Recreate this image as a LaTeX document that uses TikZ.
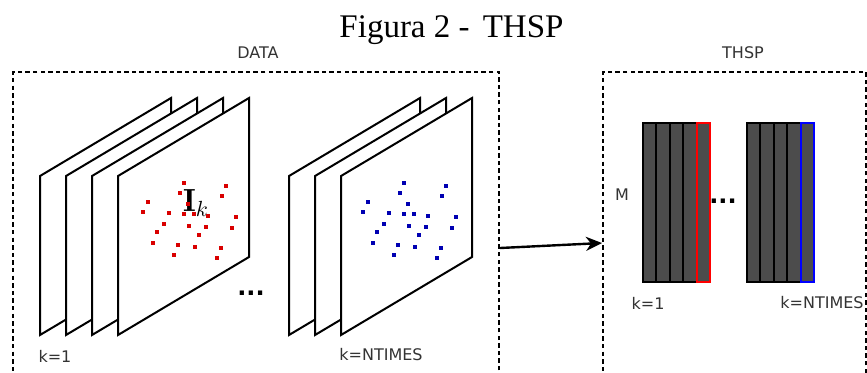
\documentclass[tikz,border=0pt]{standalone}
\usepackage{amsmath, amssymb}
\usepackage{fontspec}
\newfontfamily\labelfont{DejaVu Sans}
\newfontfamily\titlefont{Liberation Serif}
\usetikzlibrary{arrows,
                arrows.meta,
                positioning}
\tikzstyle{dashbox} = [rectangle, draw=black, line width=1pt, dash pattern=on 2.2pt off 1.6pt]
\tikzstyle{lbl} = [font=\labelfont\fontsize{8}{9}\selectfont, text=black!80, inner sep=0pt]
\tikzstyle{frame} = [draw=black, line width=1pt, fill=white, line join=miter]
\tikzstyle{col} = [draw=black, line width=1pt, fill=black!70]
\tikzstyle{arrow} = [line width=1.2pt,->,>={Stealth[length=8pt,width=7pt,inset=2.5pt]}]
\tikzstyle{dots} = [font=\labelfont\bfseries\fontsize{12}{12}\selectfont, inner sep=0pt]

\begin{document}
\begin{tikzpicture}[x=0.5pt, y=-0.5pt]
        \clip (0,0) rectangle (867,372);
        \node (title) [font=\titlefont\fontsize{16.5}{18}\selectfont, anchor=base] at (451.5,37) {Figura 2 -\hspace{0.4em}THSP};
        % dashed boxes
        \node (data) [dashbox, minimum width=243pt, minimum height=176pt] at (256,248) {};
        \node (thsp) [dashbox, minimum width=131.5pt, minimum height=171pt] at (734.5,243) {};
        \node (datalbl) [lbl] at (258,53) {DATA};
        \node (thsplbl) [lbl] at (743,53) {THSP};
        % images
        \foreach \x in {40,66,92,118,289,315,341}
            \draw [frame] (\x,335) -- ++(0,-159) -- ++(131,-78) -- ++(0,159) -- cycle;
        \node (ik) [font=\fontsize{16}{18}\selectfont, inner sep=0pt] at (196,203) {$\mathbf{I}_k$};
        \foreach \dx/\c in {0/red!85!black, 220/blue!70!black}
            \foreach \px/\py in {184/183, 226/186, 180/193, 222/196, 148/202, 188/204,
                                 143/212, 169/213, 184/214, 194/214, 208/216, 236/217,
                                 164/224, 189/226, 206/227, 232/228, 157/232, 199/235,
                                 153/243, 178/245, 195/247, 221/248, 174/255, 217/258}
                \fill [\c] (\px+\dx-2,\py-2) rectangle ++(4,4);
        \node (dotsa) [dots] at (251,293) {...};
        \node (ka) [lbl] at (55,356) {k=1};
        \node (kb) [lbl] at (381,355) {k=NTIMES};
        % THSP matrices
        \foreach \i in {0,...,3}
            \draw [col] (643+13.4*\i,123) rectangle ++(13.4,159);
        \draw [col, draw=red] (696.6,123) rectangle ++(13.4,159);
        \foreach \i in {0,...,3}
            \draw [col] (747+13.4*\i,123) rectangle ++(13.4,159);
        \draw [col, draw=blue] (800.6,123) rectangle ++(13.4,159);
        \node (m) [lbl] at (622,195) {M};
        \node (dotsb) [dots] at (723,201) {...};
        \node (kc) [lbl] at (648,303) {k=1};
        \node (kd) [lbl] at (822,303) {k=NTIMES};
        \draw [arrow] (data.east) -- (thsp.west);
\end{tikzpicture}
\end{document}
